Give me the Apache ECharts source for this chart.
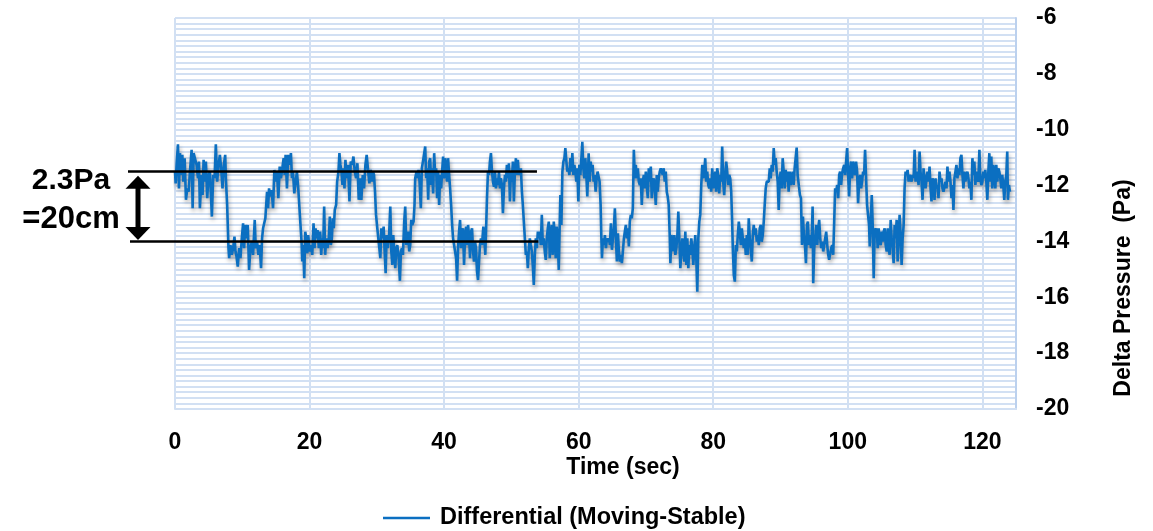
<!DOCTYPE html>
<html>
<head>
<meta charset="utf-8">
<script src="https://cdn.jsdelivr.net/npm/echarts@6/dist/echarts.min.js"></script>
<style>
  html, body { margin: 0; padding: 0; background: #ffffff; }
  #chart { width: 1153px; height: 531px; }
</style>
</head>
<body>
<div id="chart"></div>
<script>
// Differential pressure trace, [time (s), delta pressure (Pa)]
const trace0to30 = [
  [0,-11.50],[0.10,-11.92],[0.25,-11.20],[0.44,-10.52],[0.59,-12.10],[0.74,-10.84],[0.89,-11.62],[1.09,-10.90],[1.23,-11.86],[1.43,-11.02],
  [1.63,-12.51],[1.83,-12.10],[2.02,-12.22],[2.22,-11.50],[2.47,-10.72],[2.62,-12.81],[2.77,-10.84],[2.96,-11.02],[3.21,-11.26],[3.41,-11.74],
  [3.56,-11.14],[3.70,-12.81],[3.95,-11.62],[4.10,-12.34],[4.25,-11.08],[4.44,-11.86],[4.59,-11.14],[4.79,-12.45],[4.99,-11.62],[5.19,-11.50],
  [5.48,-13.11],[5.68,-11.62],[5.88,-11.74],[6.07,-10.52],[6.27,-11.86],[6.47,-11.26],[6.67,-10.90],[6.86,-11.38],[7.06,-12.10],[7.26,-11.26],
  [7.46,-10.90],[7.56,-11.74],[7.75,-12.69],[7.95,-14.24],
  [8.05,-14.60],[8.25,-14.13],[8.44,-14.48],[8.64,-14.24],[8.84,-13.83],[8.99,-14.36],[9.14,-14.54],[9.33,-14.90],[9.53,-14.24],[9.73,-14.60],
  [9.93,-13.89],[10.12,-13.35],[10.27,-14.24],[10.42,-13.41],[10.62,-13.89],[10.81,-13.41],[11.01,-15.02],[11.21,-14.24],[11.41,-14.01],[11.60,-14.48],
  [11.85,-13.23],[12.00,-14.24],[12.20,-14.01],[12.40,-14.48],[12.59,-14.13],[12.79,-14.96],[12.94,-13.89],[13.09,-13.53],[13.23,-13.47],[13.43,-13.17],
  [13.58,-13.11],[13.68,-12.22],[13.83,-12.81],[13.98,-12.10],[14.17,-12.39],[14.37,-12.16],[14.57,-12.81],[14.77,-11.44],[14.96,-11.86],[15.16,-11.50],
  [15.36,-12.45],[15.56,-11.32],[15.75,-11.74],[15.95,-11.38],[16.15,-11.02],[16.30,-11.62],[16.44,-10.90],[16.64,-12.10],[16.84,-10.90],[17.04,-11.26],
  [17.23,-10.84],[17.38,-11.74],[17.53,-11.50],[17.73,-12.28],[17.93,-11.86],[18.12,-11.50],[18.32,-12.10],[18.62,-13.29],[18.81,-14.01],[18.91,-14.72],
  [19.06,-14.13],[19.21,-15.32],[19.36,-13.65],[19.51,-13.89],[19.65,-14.42],[19.80,-13.77],[20.00,-14.36],[20.20,-14.13],[20.40,-14.48],[20.59,-13.35],
  [20.74,-14.24],[20.89,-13.53],[21.04,-13.89],[21.19,-13.59],[21.38,-14.24],[21.58,-13.65],[21.73,-14.48],[21.88,-13.89],[22.02,-14.24],[22.17,-12.75],
  [22.32,-14.48],[22.47,-13.89],[22.67,-14.24],[22.86,-13.89],[23.01,-13.11],[23.16,-14.13],[23.31,-13.89],[23.46,-13.17],[23.60,-13.53],[23.75,-12.87],
  [23.95,-12.69],[24.10,-11.86],[24.30,-11.50],[24.44,-10.84],[24.59,-11.26],[24.74,-11.50],[24.89,-11.98],[25.04,-11.38],[25.19,-12.10],[25.33,-11.08],
  [25.53,-11.74],[25.73,-11.26],[25.93,-12.57],[26.12,-11.14],[26.32,-11.26],[26.52,-10.96],[26.72,-11.50],[26.91,-11.74],[27.11,-11.20],[27.31,-12.51],
  [27.51,-11.74],[27.70,-12.51],[27.90,-11.62],[28.10,-12.10],[28.30,-11.26],[28.49,-10.90],[28.69,-11.44],[28.89,-11.92],[29.09,-11.44],[29.28,-11.86],
  [29.43,-11.50],[29.58,-11.62],[29.73,-12.22],[29.88,-13.05],[30.07,-13.53],[30.27,-14.01]
];

const trace30to61 = [
  [30.52,-14.60],[30.67,-13.53],[30.86,-13.89],[31.01,-13.47],[31.16,-14.36],[31.31,-15.14],[31.46,-13.77],[31.60,-14.24],[31.80,-13.89],[32.00,-12.75],
  [32.15,-14.36],[32.30,-14.84],[32.44,-13.77],[32.59,-14.36],[32.74,-14.96],[32.89,-14.24],[33.04,-14.13],[33.23,-14.54],[33.43,-15.41],[33.58,-14.36],
  [33.73,-14.24],[33.88,-14.48],[34.07,-13.29],[34.22,-12.75],[34.37,-14.13],[34.52,-13.89],[34.67,-13.65],[34.81,-14.36],[34.96,-14.13],[35.11,-13.23],
  [35.26,-13.41],[35.46,-13.29],[35.60,-12.69],[35.70,-11.74],[35.90,-11.50],[36.05,-11.74],[36.20,-11.44],[36.35,-11.86],[36.54,-12.81],[36.69,-11.38],
  [36.89,-11.08],[37.04,-11.14],[37.19,-10.60],[37.33,-11.74],[37.48,-11.38],[37.63,-12.51],[37.78,-11.14],[37.93,-11.02],[38.07,-11.98],[38.22,-11.38],
  [38.37,-12.28],[38.52,-10.84],[38.67,-11.62],[38.81,-11.38],[38.96,-12.45],[39.11,-11.50],[39.26,-12.69],[39.41,-11.62],[39.56,-12.10],[39.70,-11.50],
  [39.85,-10.96],[40.00,-11.74],[40.15,-11.02],[40.30,-11.38],[40.44,-11.86],[40.59,-11.02],[40.74,-11.62],[40.89,-12.10],[41.04,-12.69],[41.19,-13.41],
  [41.33,-13.89],[41.48,-14.13],[41.63,-14.36],[41.78,-14.60],[41.93,-15.41],[42.07,-14.24],[42.22,-13.65],[42.37,-13.23],[42.52,-14.24],[42.67,-13.77],
  [42.81,-13.53],[42.96,-14.84],[43.11,-13.89],[43.26,-13.47],[43.41,-14.13],[43.56,-13.41],[43.70,-13.77],[43.85,-14.60],[44.00,-13.65],[44.15,-13.53],
  [44.30,-14.36],[44.44,-14.72],[44.59,-14.01],[44.74,-14.24],[44.89,-15.08],[45.04,-15.38],[45.19,-14.72],[45.33,-14.13],[45.48,-13.89],[45.63,-14.13],
  [45.83,-13.47],[45.98,-13.89],[46.12,-14.48],[46.27,-13.29],[46.37,-12.45],[46.52,-11.50],[46.67,-11.62],[46.81,-11.14],[46.96,-10.84],[47.11,-11.50],
  [47.26,-11.86],[47.41,-12.04],[47.56,-11.50],[47.70,-12.10],[47.85,-11.74],[48.00,-11.98],[48.15,-11.50],[48.30,-12.10],[48.44,-11.74],[48.59,-11.98],
  [48.74,-12.99],[48.89,-12.10],[49.04,-11.62],[49.19,-11.86],[49.33,-11.26],[49.48,-11.74],[49.63,-11.20],[49.78,-12.57],[49.93,-11.50],[50.07,-11.86],
  [50.22,-11.14],[50.37,-12.57],[50.52,-11.50],[50.67,-11.02],[50.81,-11.62],[50.96,-11.08],[51.11,-11.62],[51.26,-11.50],[51.41,-11.38],[51.56,-12.22],
  [51.70,-12.69],[51.85,-13.29],[52.00,-13.89],[52.15,-14.48],[52.30,-14.36],[52.44,-14.96],[52.59,-14.24],[52.74,-13.89],[52.89,-14.13],[53.04,-14.36],
  [53.19,-14.90],[53.33,-15.56],[53.48,-14.48],[53.63,-13.89],[53.78,-14.24],[53.93,-13.65],[54.07,-13.89],[54.22,-13.65],[54.37,-14.13],[54.52,-13.05],
  [54.67,-14.13],[54.81,-13.89],[54.96,-14.36],[55.11,-14.66],[55.26,-13.89],[55.41,-13.53],[55.56,-13.29],[55.70,-14.60],[55.85,-13.89],[56.00,-13.41],
  [56.15,-14.48],[56.30,-13.29],[56.44,-13.77],[56.59,-14.60],[56.74,-13.47],[56.89,-13.89],[57.04,-15.02],[57.19,-13.29],[57.28,-12.34],[57.43,-13.41],
  [57.58,-11.50],[57.73,-11.14],[57.88,-11.02],[58.02,-10.66],[58.17,-11.14],[58.32,-11.50],[58.47,-11.38],[58.62,-11.62],[58.77,-11.02],[58.91,-11.50],
  [59.06,-10.84],[59.21,-11.62],[59.36,-11.26],[59.51,-11.50],[59.65,-11.86],[59.80,-11.38],[59.95,-12.57],[60.10,-11.26],[60.25,-11.62],[60.40,-11.02],
  [60.54,-10.43],[60.69,-11.38],[60.84,-11.74],[60.99,-11.02],[61.14,-11.62],[61.28,-12.39]
];

const trace61to92 = [
  [61.48,-10.84],[61.63,-11.86],[61.78,-11.14],[61.93,-11.50],[62.07,-11.26],[62.22,-11.86],[62.37,-11.62],[62.52,-12.22],[62.67,-11.74],[62.81,-11.50],
  [62.96,-11.44],[63.11,-11.86],[63.26,-12.69],[63.36,-13.77],[63.46,-14.60],[63.60,-13.89],[63.75,-14.13],[63.90,-13.77],[64.05,-14.24],[64.20,-13.89],
  [64.35,-14.01],[64.49,-13.89],[64.64,-14.13],[64.79,-13.35],[64.94,-14.30],[65.09,-13.89],[65.23,-13.53],[65.38,-12.81],[65.53,-13.89],[65.68,-14.72],
  [65.83,-13.71],[65.98,-14.36],[66.12,-14.72],[66.27,-14.48],[66.42,-14.78],[66.57,-14.36],[66.72,-13.89],[66.86,-13.65],[67.01,-13.41],[67.16,-13.89],
  [67.31,-13.53],[67.46,-14.18],[67.60,-13.29],[67.75,-13.05],[67.90,-13.17],[68.05,-12.81],[68.20,-10.72],[68.35,-11.74],[68.49,-11.26],[68.64,-11.74],
  [68.79,-11.38],[68.94,-11.86],[69.09,-11.98],[69.23,-11.74],[69.38,-12.69],[69.53,-11.86],[69.68,-11.62],[69.83,-12.10],[69.98,-11.50],[70.12,-11.44],
  [70.27,-12.45],[70.42,-11.38],[70.57,-11.86],[70.72,-11.32],[70.86,-12.45],[71.01,-11.98],[71.16,-11.74],[71.31,-12.10],[71.46,-12.69],[71.60,-11.62],
  [71.75,-12.22],[71.90,-11.74],[72.05,-11.50],[72.20,-11.38],[72.35,-11.32],[72.49,-11.62],[72.64,-11.38],[72.79,-11.86],[72.94,-11.50],[73.09,-12.22],
  [73.23,-12.39],[73.38,-12.69],[73.53,-13.77],[73.63,-14.78],[73.78,-13.77],[73.93,-13.89],[74.07,-14.36],[74.22,-13.77],[74.37,-14.48],[74.52,-14.24],
  [74.67,-13.77],[74.81,-12.93],[74.96,-13.89],[75.11,-14.96],[75.26,-14.36],[75.41,-13.89],[75.56,-14.36],[75.70,-14.72],[75.85,-13.65],[76.00,-14.84],
  [76.15,-13.89],[76.30,-14.96],[76.44,-14.13],[76.59,-14.48],[76.74,-13.89],[76.89,-14.24],[77.04,-14.84],[77.19,-14.24],[77.33,-13.77],[77.48,-14.60],
  [77.63,-15.80],[77.78,-13.89],[77.93,-13.29],[78.07,-13.05],[78.22,-11.98],[78.37,-11.26],[78.52,-11.74],[78.67,-11.50],[78.81,-11.02],[78.96,-11.86],
  [79.11,-11.50],[79.26,-11.98],[79.41,-12.10],[79.56,-11.74],[79.70,-12.22],[79.85,-11.38],[80.00,-12.10],[80.15,-11.86],[80.30,-11.50],[80.44,-12.22],
  [80.59,-11.38],[80.74,-11.62],[80.89,-12.28],[81.04,-11.62],[81.19,-11.86],[81.33,-10.60],[81.48,-11.86],[81.63,-12.34],[81.78,-11.62],[81.93,-11.14],
  [82.07,-11.50],[82.22,-11.98],[82.37,-11.62],[82.52,-11.74],[82.67,-12.22],[82.81,-13.29],[82.91,-14.24],[83.06,-15.20],[83.21,-15.44],[83.36,-14.13],
  [83.51,-14.36],[83.65,-13.77],[83.80,-13.29],[83.95,-13.65],[84.10,-14.13],[84.25,-13.53],[84.40,-13.59],[84.54,-14.24],[84.69,-13.89],[84.84,-14.48],
  [84.99,-13.77],[85.14,-14.48],[85.28,-13.17],[85.43,-13.89],[85.58,-14.24],[85.73,-14.72],[85.88,-13.77],[86.02,-13.41],[86.17,-13.77],[86.32,-13.53],
  [86.47,-14.01],[86.62,-13.77],[86.77,-14.13],[86.91,-13.53],[87.06,-13.41],[87.21,-14.01],[87.36,-13.77],[87.51,-13.29],[87.65,-12.69],[87.80,-12.10],
  [87.95,-11.86],[88.10,-11.80],[88.25,-11.86],[88.40,-11.38],[88.54,-11.74],[88.69,-11.26],[88.84,-11.50],[88.99,-10.66],[89.14,-11.26],[89.28,-11.02],
  [89.43,-11.50],[89.58,-11.86],[89.73,-12.87],[89.88,-11.74],[90.02,-11.50],[90.17,-12.10],[90.32,-11.02],[90.47,-11.50],[90.62,-12.10],[90.77,-11.44],
  [90.91,-11.86],[91.06,-11.50],[91.21,-12.22],[91.36,-11.50],[91.51,-11.98],[91.65,-11.74],[91.80,-11.50],[91.95,-11.98],[92.10,-11.38],[92.25,-11.02],
  [92.40,-10.64],[92.54,-11.62]
];

const trace92to124 = [
  [92.74,-12.04],[92.89,-12.34],[93.04,-12.45],[93.19,-14.13],[93.33,-13.11],[93.48,-13.77],[93.63,-14.13],[93.78,-14.78],[93.93,-13.41],[94.07,-13.29],
  [94.22,-14.13],[94.37,-13.77],[94.52,-14.24],[94.67,-13.65],[94.77,-12.75],[94.86,-15.50],[95.01,-14.24],[95.16,-13.89],[95.31,-13.41],[95.46,-14.13],
  [95.60,-13.53],[95.75,-13.23],[95.90,-13.89],[96.05,-14.24],[96.20,-14.01],[96.35,-14.36],[96.49,-14.13],[96.64,-13.89],[96.79,-13.65],[96.94,-14.13],
  [97.09,-14.48],[97.23,-14.66],[97.38,-14.60],[97.53,-14.24],[97.68,-14.13],[97.83,-14.48],[97.98,-13.29],[98.12,-12.10],[98.27,-12.22],[98.42,-11.98],
  [98.57,-12.45],[98.72,-11.62],[98.86,-11.50],[99.01,-11.98],[99.16,-11.56],[99.31,-11.38],[99.46,-11.26],[99.60,-11.62],[99.75,-11.14],[99.90,-10.66],
  [100.05,-11.62],[100.20,-12.39],[100.35,-11.38],[100.49,-11.14],[100.64,-11.74],[100.79,-11.14],[100.94,-11.38],[101.09,-11.62],[101.23,-11.14],[101.38,-11.50],
  [101.53,-12.63],[101.68,-11.86],[101.83,-11.62],[101.98,-12.10],[102.12,-11.86],[102.27,-11.50],[102.42,-11.62],[102.57,-10.72],[102.72,-11.74],[102.86,-12.69],
  [103.01,-13.05],[103.16,-13.41],[103.26,-14.18],[103.41,-13.29],[103.56,-12.34],[103.70,-13.41],[103.85,-15.32],[104.00,-13.53],[104.15,-13.77],[104.30,-13.53],
  [104.44,-14.24],[104.59,-13.53],[104.74,-14.01],[104.89,-14.13],[105.04,-13.65],[105.19,-14.01],[105.33,-13.65],[105.48,-13.53],[105.63,-14.13],[105.78,-14.36],
  [105.93,-13.53],[106.07,-14.24],[106.22,-14.48],[106.37,-13.23],[106.52,-13.89],[106.67,-14.24],[106.81,-14.78],[106.96,-13.41],[107.11,-13.89],[107.26,-13.23],
  [107.41,-14.72],[107.56,-13.89],[107.70,-13.05],[107.85,-13.77],[108.00,-14.84],[108.15,-13.89],[108.30,-13.41],[108.44,-12.10],[108.59,-11.50],[108.74,-11.62],
  [108.89,-11.44],[109.04,-11.86],[109.19,-11.62],[109.33,-11.74],[109.48,-11.86],[109.63,-11.62],[109.78,-11.74],[109.93,-10.72],[110.07,-11.86],[110.22,-11.50],
  [110.37,-11.62],[110.52,-11.98],[110.67,-10.78],[110.81,-11.50],[110.96,-11.86],[111.11,-12.51],[111.26,-11.38],[111.41,-11.44],[111.56,-12.10],[111.70,-11.74],
  [111.85,-11.50],[112.00,-11.86],[112.15,-11.32],[112.30,-12.10],[112.44,-12.57],[112.59,-11.74],[112.74,-11.86],[112.89,-12.51],[113.04,-11.74],[113.19,-12.10],
  [113.33,-11.98],[113.48,-12.45],[113.63,-11.50],[113.78,-11.86],[113.93,-11.74],[114.07,-12.10],[114.22,-12.22],[114.37,-12.16],[114.52,-11.86],[114.67,-12.10],
  [114.81,-11.32],[114.96,-11.86],[115.11,-11.50],[115.26,-11.86],[115.41,-12.45],[115.56,-11.98],[115.70,-12.87],[115.85,-11.74],[116.00,-11.50],[116.15,-11.26],
  [116.30,-11.74],[116.44,-11.38],[116.59,-11.62],[116.74,-11.02],[116.89,-10.90],[117.04,-11.62],[117.19,-12.10],[117.33,-11.50],[117.48,-11.86],[117.63,-11.62],
  [117.78,-11.50],[117.93,-11.74],[118.07,-12.10],[118.22,-11.86],[118.37,-12.51],[118.52,-11.02],[118.67,-11.62],[118.81,-11.14],[118.96,-11.98],[119.11,-11.50],
  [119.26,-11.74],[119.41,-11.86],[119.56,-10.72],[119.70,-11.74],[119.85,-11.98],[120.00,-11.86],[120.15,-11.50],[120.30,-11.74],[120.44,-11.44],[120.59,-11.86],
  [120.74,-12.51],[120.89,-11.50],[121.04,-10.84],[121.19,-11.86],[121.33,-10.96],[121.48,-12.10],[121.63,-11.26],[121.78,-11.50],[121.93,-12.10],[122.07,-11.26],
  [122.22,-11.86],[122.37,-11.38],[122.52,-11.50],[122.67,-11.74],[122.81,-12.10],[122.96,-11.62],[123.11,-11.98],[123.26,-12.51],[123.41,-11.86],[123.56,-11.62],
  [123.70,-10.78],[123.80,-12.51],[123.95,-11.98],[124.10,-12.22]
];

// Axis ranges and tick spacing
const timeRange = [0, 125];
const timeStep = 20;
const pressureRange = [-20, -6];
const pressureStep = 2;

// Reference band drawn over the first half of the run
const bandUpperPa = -11.5;
const bandLowerPa = -14.0;
const bandEndSec = [53.8, 54.0];
const arrowTopPa = -11.65;
const arrowSpanPa = 2.3;
const bandNote = ['2.3Pa', '=20cm'];

const seriesName = 'Differential (Moving-Stable)';
const xName = 'Time (sec)';
const yName = 'Delta Pressure  (Pa)';

const FONT = '"Liberation Sans", Arial, Helvetica, sans-serif';
const GRID_BLUE = '#d2e0f3';
const TRACE_BLUE = '#0b6fc1';

const chart = echarts.init(document.getElementById('chart'), null, { renderer: 'canvas' });

const labelStyle = { fontFamily: FONT, fontWeight: 'bold', fontSize: 23, color: '#000' };

const option = {
  animation: false,
  backgroundColor: '#ffffff',
  grid: { left: 175, right: 137, top: 18, bottom: 122, containLabel: false },
  legend: {
    data: [seriesName],
    left: 383,
    top: 506,
    padding: 0,
    icon: 'rect',
    itemWidth: 47,
    itemHeight: 2.5,
    textStyle: Object.assign({}, labelStyle, { fontSize: 23.5, padding: [0, 0, 0, 5] })
  },
  xAxis: {
    type: 'value',
    min: timeRange[0],
    max: timeRange[1],
    interval: timeStep,
    axisLine: { show: true, onZero: false, lineStyle: { color: GRID_BLUE, width: 2 } },
    axisTick: { show: false },
    axisLabel: Object.assign({ showMaxLabel: false, margin: 22 }, labelStyle),
    splitLine: { show: true, lineStyle: { color: GRID_BLUE, width: 2 } }
  },
  yAxis: {
    type: 'value',
    position: 'right',
    min: pressureRange[0],
    max: pressureRange[1],
    interval: pressureStep,
    axisLine: { show: true, onZero: false, lineStyle: { color: '#bcd1ee', width: 2 } },
    axisTick: { show: false },
    axisLabel: Object.assign({ margin: 20, align: 'left', padding: [4, 0, 0, 0] }, labelStyle),
    splitLine: { show: true, lineStyle: { color: GRID_BLUE, width: 2 } },
    minorTick: { show: false, splitNumber: 10 },
    minorSplitLine: { show: true, lineStyle: { color: GRID_BLUE, width: 2 } }
  },
  series: [{
    name: seriesName,
    type: 'line',
    data: trace0to30.concat(trace30to61, trace61to92, trace92to124),
    symbol: 'none',
    showSymbol: false,
    sampling: null,
    z: 3,
    itemStyle: { color: TRACE_BLUE },
    lineStyle: {
      color: TRACE_BLUE,
      width: 2.6,
      shadowColor: 'rgba(0,0,0,0.35)',
      shadowBlur: 4,
      shadowOffsetX: 1,
      shadowOffsetY: 3
    }
  }]
};

chart.setOption(option);

// Reference band, arrow and notes placed through the chart's own scales
const toPx = (t, v) => chart.convertToPixel({ gridIndex: 0 }, [t, v]);
const gridLeftPx = toPx(timeRange[0], pressureRange[0])[0];
const gridBottomPx = toPx(timeRange[0], pressureRange[0])[1];
const [upEndX, upY] = toPx(bandEndSec[0], bandUpperPa);
const [loEndX, loY] = toPx(bandEndSec[1], bandLowerPa);
const arrowTopY = toPx(0, arrowTopPa)[1];
const arrowBotY = toPx(0, arrowTopPa - arrowSpanPa)[1];
const arrowX = gridLeftPx - 37;
const headLen = 13, headHalf = 12.5;

chart.setOption({
  graphic: [
    { type: 'line', z: 100, shape: { x1: gridLeftPx - 47, y1: upY, x2: upEndX, y2: upY },
      style: { stroke: '#000', lineWidth: 2.5 } },
    { type: 'line', z: 100, shape: { x1: gridLeftPx - 45, y1: loY, x2: loEndX, y2: loY },
      style: { stroke: '#000', lineWidth: 2.5 } },
    { type: 'line', z: 100, shape: { x1: arrowX, y1: arrowTopY + headLen - 1, x2: arrowX, y2: arrowBotY - headLen + 1 },
      style: { stroke: '#000', lineWidth: 5 } },
    { type: 'polygon', z: 100, shape: { points: [[arrowX, arrowTopY], [arrowX - headHalf, arrowTopY + headLen], [arrowX + headHalf, arrowTopY + headLen]] },
      style: { fill: '#000' } },
    { type: 'polygon', z: 100, shape: { points: [[arrowX, arrowBotY], [arrowX - headHalf, arrowBotY - headLen], [arrowX + headHalf, arrowBotY - headLen]] },
      style: { fill: '#000' } },
    { type: 'text', z: 100, x: 71, y: 181,
      style: { text: bandNote[0], fill: '#000', font: 'bold 30px ' + FONT, align: 'center', verticalAlign: 'middle' } },
    { type: 'text', z: 100, x: 71, y: 219,
      style: { text: bandNote[1], fill: '#000', font: 'bold 31px ' + FONT, align: 'center', verticalAlign: 'middle' } },
    { type: 'text', z: 100, x: 623, y: gridBottomPx + 59,
      style: { text: xName, fill: '#000', font: 'bold 23px ' + FONT, align: 'center', verticalAlign: 'middle' } },
    { type: 'text', z: 100, x: 1124, y: 288, rotation: Math.PI / 2,
      style: { text: yName, fill: '#000', font: 'bold 23px ' + FONT, align: 'center', verticalAlign: 'middle' } }
  ]
});
</script>
</body>
</html>
